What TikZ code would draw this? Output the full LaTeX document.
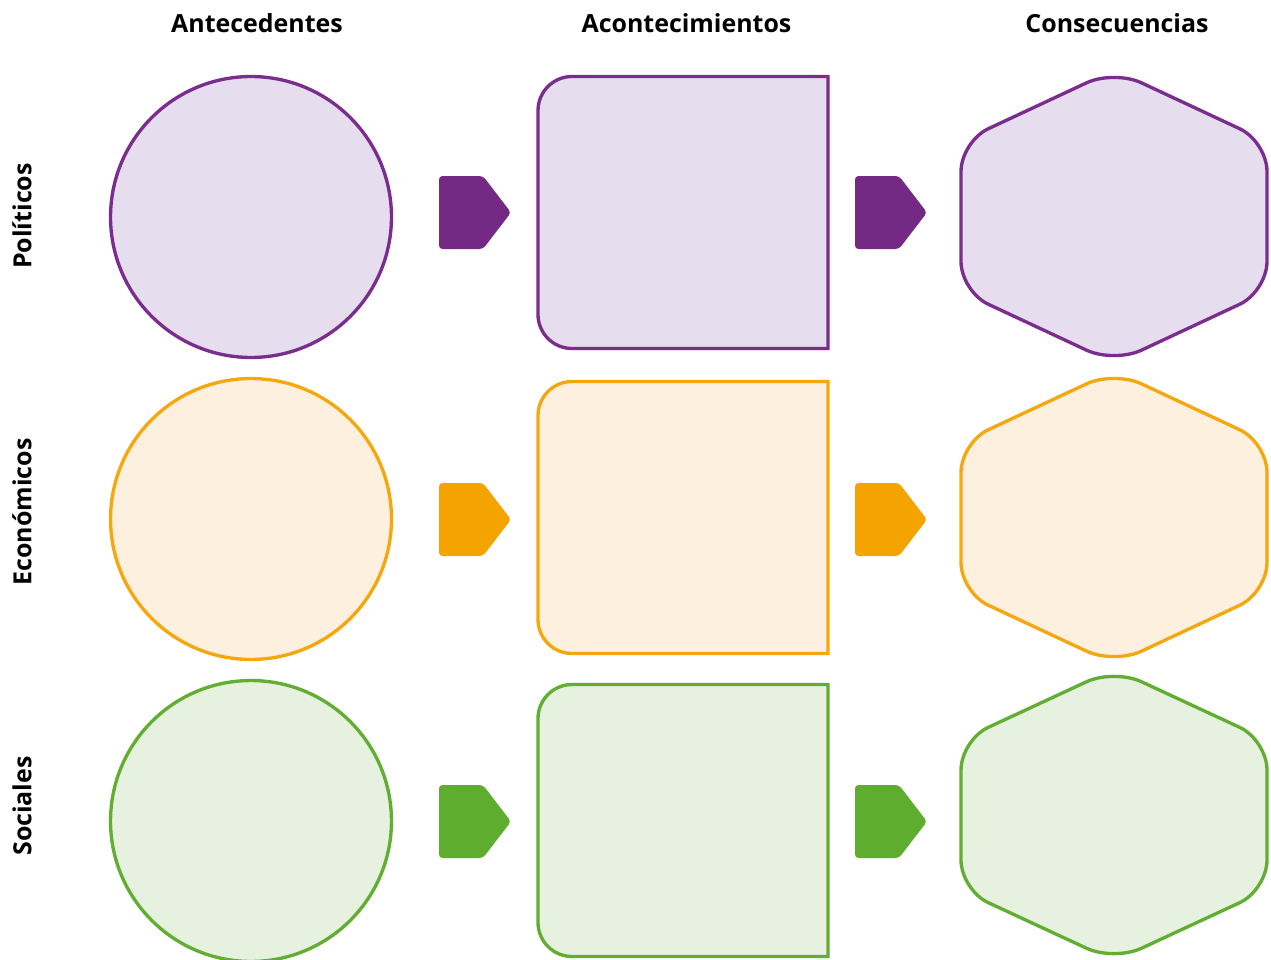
\documentclass[tikz,border=0pt]{standalone}
\usepackage{fontspec}
\setmainfont{Open Sans}
\definecolor{pstroke}{HTML}{7B2D8E}
\definecolor{pfill}{HTML}{E6DDEF}
\definecolor{parrow}{HTML}{742A85}
\definecolor{ostroke}{HTML}{F5A70F}
\definecolor{ofill}{HTML}{FEF0DF}
\definecolor{oarrow}{HTML}{F5A300}
\definecolor{gstroke}{HTML}{62AE32}
\definecolor{gfill}{HTML}{E7F1DF}
\definecolor{garrow}{HTML}{5FAD2E}
\begin{document}
\begin{tikzpicture}[x=0.02cm,y=-0.02cm,
  hdr/.style={font=\bfseries\fontsize{14.2}{16}\selectfont, inner sep=0pt},
  circ/.style={circle, draw=#1stroke, fill=#1fill, line width=1.9pt, minimum size=5.62cm, inner sep=0pt},
  outl/.style={draw=#1stroke, fill=#1fill, line width=1.9pt},
  arr/.style={fill=#1arrow, rounded corners=0.07cm},
  anchorbox/.style={inner sep=0pt, minimum width=5.8cm, minimum height=5.5cm}
]
\useasboundingbox (0,0) rectangle (1271,960);

% headers
\node[hdr] (h1) at (257,23) {Antecedentes};
\node[hdr] (h2) at (686.5,23) {Acontecimientos};
\node[hdr] (h3) at (1117,23) {Consecuencias};

% side labels
\node[hdr, rotate=90] (s1) at (22,216) {Políticos};
\node[hdr, rotate=90] (s2) at (22,512) {Económicos};
\node[hdr, rotate=90] (s3) at (22,806) {Sociales};

% rows: colour prefix, circle y, square top, square bottom, hex top, hex bottom, arrow centre
\foreach \c/\cy/\st/\sb/\ht/\hb/\ay/\n in {p/217/76.5/348.5/70/363/212.5/1, o/519/381.5/653.5/371/664/519.5/2, g/821/684.5/956.5/669/961/821.5/3}{
  % antecedent circle
  \node[circ=\c] (a\n) at (251,\cy) {};
  % event box (left corners rounded)
  \path[outl=\c] (828,\st) -- (572,\st)
     arc[start angle=90, end angle=180, radius=0.68cm]
     -- (538,{\sb-34}) arc[start angle=180, end angle=270, radius=0.68cm]
     -- (828,\sb) -- cycle;
  \node[anchorbox] (b\n) at (683,{(\st+\sb)/2}) {};
  % consequence hexagon
  \pgfmathsetmacro{\hm}{(\ht+\hb)/2}
  \pgfmathsetmacro{\hu}{\hm-75}
  \pgfmathsetmacro{\hl}{\hm+75}
  \path[outl=\c, rounded corners=0.6cm] (961,\hm) -- (961,\hu) -- (1114,\ht) -- (1267,\hu) -- (1267,\hl) -- (1114,\hb) -- (961,\hl) -- cycle;
  \node[anchorbox] (c\n) at (1114,\hm) {};
  % arrows
  \fill[arr=\c] (439,{\ay-36.5}) -- (483,{\ay-36.5}) -- (511,\ay) -- (483,{\ay+36.5}) -- (439,{\ay+36.5}) -- cycle;
  \fill[arr=\c] (855,{\ay-36.5}) -- (899,{\ay-36.5}) -- (927,\ay) -- (899,{\ay+36.5}) -- (855,{\ay+36.5}) -- cycle;
}
\end{tikzpicture}
\end{document}
